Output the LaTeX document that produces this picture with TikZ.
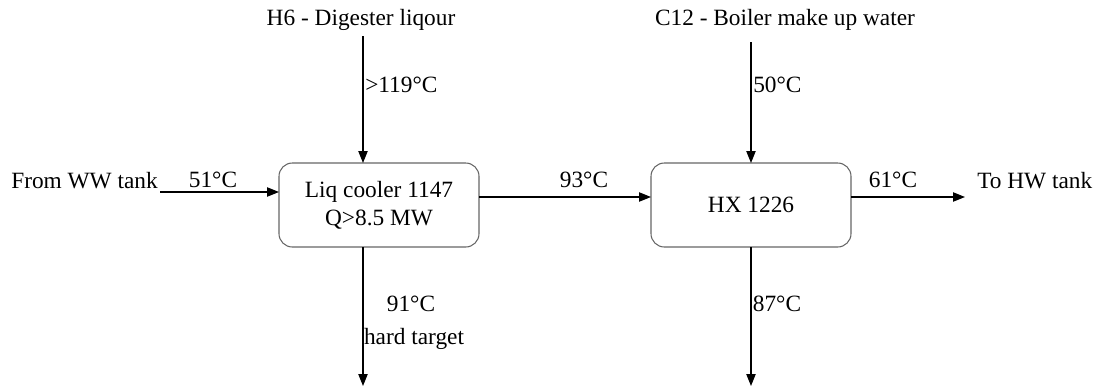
\documentclass[tikz,border=0pt]{standalone}
\usepackage{fontspec}
\setmainfont{Liberation Serif}
\usetikzlibrary{arrows.meta}
\begin{document}
\begin{tikzpicture}[x=0.75pt,y=-0.75pt,
  unitbox/.style={draw=black!60, line width=0.8pt, rounded corners=10pt, minimum width=150pt, minimum height=63pt, inner sep=0pt, align=center},
  flow/.style={line width=0.9pt, -{Triangle[length=9pt,width=7pt]}},
  lbl/.style={inner sep=0pt, font=\fontsize{17.5}{20}\selectfont, align=center}]
\useasboundingbox (0,0) rectangle (1101,387);
\node[unitbox, lbl] (b1) at (379,205) {Liq cooler 1147\\[1pt]Q>8.5 MW};
\node[unitbox, lbl] (b2) at (751,205) {HX 1226};
% top inputs
\node[lbl] (h6) at (361,20) {H6 - Digester liqour};
\node[lbl] (c12) at (785,20) {C12 - Boiler make up water};
\coordinate (h6s) at (363,36);
\coordinate (h6e) at (363,163);
\coordinate (c12s) at (751,42);
\coordinate (c12e) at (751,163);
\draw[flow] (h6s) -- (h6e);
\draw[flow] (c12s) -- (c12e);
\node[lbl, anchor=west] (t119) at (365,85) {>119°C};
\node[lbl, anchor=west] (t50) at (753,85) {50°C};
% left inlet
\node[lbl, anchor=east] (ww) at (158,181) {From WW tank};
\coordinate (wws) at (160,192);
\coordinate (wwe) at (279,192);
\draw[flow] (wws) -- (wwe);
\node[lbl] (t51) at (213,180) {51°C};
% middle
\coordinate (m1) at (479,197);
\coordinate (m2) at (651,197);
\draw[flow] (m1) -- (m2);
\node[lbl] (t93) at (584,180) {93°C};
% outlet
\coordinate (o1) at (851,197);
\coordinate (o2) at (965,197);
\draw[flow] (o1) -- (o2);
\node[lbl] (t61) at (893,180) {61°C};
\node[lbl, anchor=west] (hw) at (977,181) {To HW tank};
% bottom outputs
\coordinate (d1s) at (363,247);
\coordinate (d1e) at (363,386);
\coordinate (d2s) at (751,247);
\coordinate (d2e) at (751,386);
\draw[flow] (d1s) -- (d1e);
\draw[flow] (d2s) -- (d2e);
\node[lbl] (t91) at (411,304) {91°C};
\node[lbl] (hard) at (414,339) {hard target};
\node[lbl] (t87) at (777,304) {87°C};
\end{tikzpicture}
\end{document}
